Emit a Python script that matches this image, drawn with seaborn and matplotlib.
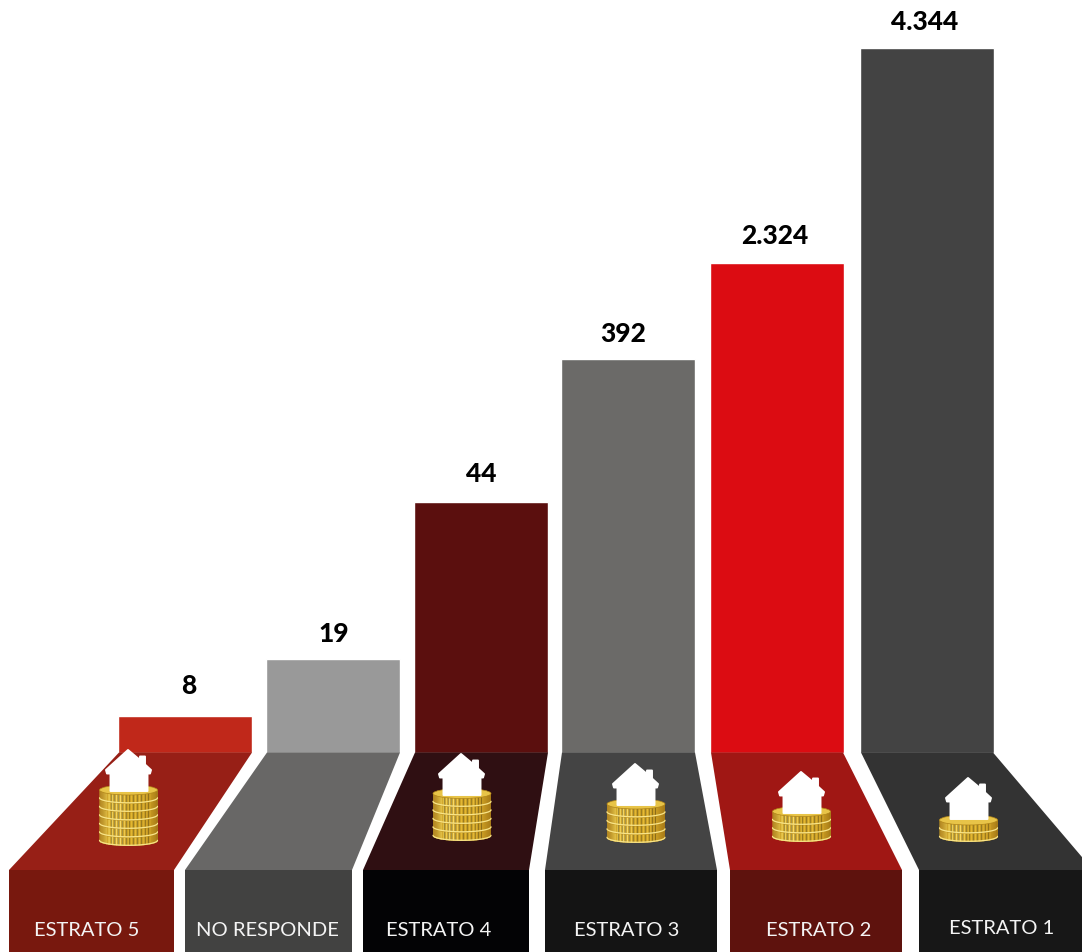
import numpy as np
import pandas as pd
import matplotlib
matplotlib.use("Agg")
import matplotlib.pyplot as plt
from matplotlib.collections import LineCollection
from matplotlib.colors import LinearSegmentedColormap
from matplotlib.patches import Ellipse, Polygon
import seaborn as sns

# Households per socioeconomic stratum
estratos = ["ESTRATO 5", "NO RESPONDE", "ESTRATO 4", "ESTRATO 3", "ESTRATO 2", "ESTRATO 1"]
hogares = [8, 19, 44, 392, 2324, 4344]
etiquetas = ["8", "19", "44", "392", "2.324", "4.344"]

# Colours: column, floor panel, label block
color_barra = ["#C0281A", "#999999", "#5B0F0E", "#6B6A68", "#DC0C12", "#434343"]
color_piso = ["#971F16", "#686766", "#2F0F12", "#444444", "#A01714", "#333333"]
color_base = ["#78180E", "#424241", "#030305", "#141414", "#5E120D", "#171717"]

# The value axis is a broken scale: each stop ties a value to a height in pixels
escala_valor = [0, 8, 19, 44, 392, 2324, 4344, 4700]
escala_alto = [0, 37, 94, 251, 394, 490, 705, 752.5]

# Layout in pixels
W, H = 1082, 952
BASE_Y = 752.5
QUIEBRE_Y = 870
centros = [184.8, 332.8, 480.8, 627.8, 776.5, 926.5]
ANCHO_BARRA = 134
piso_sup = [(119, 252), (267, 400), (415, 548), (562, 695), (711, 843), (861, 993)]
piso_inf = [(9, 174), (185, 352), (363, 529), (545, 717), (730, 902), (919, 1093)]
offset_valor = [(4.2, 29), (0.7, 24), (0.7, 27), (-4.3, 24), (-1.5, 26), (-1.5, 26)]
texto_pos = [(86.5, 931), (267, 931), (438.5, 931), (626.5, 931), (818.5, 931), (1002, 928)]

# Coin stacks: centre x, bottom y, number of coins, house apex x, apex y
pilas = [
    (128.5, 846, 6, 128, 750),
    (462, 841, 5, 461, 754),
    (636, 843, 4, 635, 764),
    (801.5, 842, 3, 801, 772),
    (968.5, 842, 2, 968, 778),
]
casa = [(0, 0), (12, 10), (12, 6.5), (17, 6.5), (17, 14.5), (23, 20), (22, 23.5),
        (19.5, 23.5), (19.5, 41), (-17.5, 41), (-17.5, 23.5), (-21, 23.5), (-22, 20)]

oro = LinearSegmentedColormap.from_list(
    "oro", ["#B08420", "#E8C64A", "#F5DC6E", "#E0B42C", "#E6BE38", "#CC9E24", "#A87C18"])

sns.set_theme(style="white")
plt.rcParams["font.family"] = ["Lato", "DejaVu Sans"]

fig = plt.figure(figsize=(W / 100, H / 100), dpi=100, facecolor="white")

# Columns, drawn on the broken value scale and resting on the floor panels
ax = fig.add_axes([0, 1 - BASE_Y / H, 1, BASE_Y / H])
datos = pd.DataFrame({"estrato": estratos, "centro": centros, "hogares": hogares})
sns.barplot(data=datos, x="centro", y="hogares", hue="estrato", hue_order=estratos,
            palette=color_barra, native_scale=True, dodge=False, saturation=1,
            width=ANCHO_BARRA / np.diff(centros).min(), legend=False, ax=ax)
ax.set_yscale("function", functions=(
    lambda v: np.interp(v, escala_valor, escala_alto),
    lambda a: np.interp(a, escala_alto, escala_valor)))
ax.set_xlim(0, W)
ax.set_ylim(0, escala_valor[-1])
ax.axis("off")

for xc, v, txt, (dx, dy) in zip(centros, hogares, etiquetas, offset_valor):
    ax.annotate(txt, (xc, v), xytext=(dx * 0.72, dy * 0.72), textcoords="offset points",
                ha="center", va="center", fontsize=19, fontweight=900, color="black")

# Overlay in pixel units for the floor, label blocks and icons
ov = fig.add_axes([0, 0, 1, 1], facecolor="none")

for sup, inf, c_p, c_b in zip(piso_sup, piso_inf, color_piso, color_base):
    ov.add_patch(Polygon([(sup[0], BASE_Y), (sup[1], BASE_Y), (inf[1], QUIEBRE_Y), (inf[0], QUIEBRE_Y)],
                         closed=True, fc=c_p, ec="none"))
    ov.add_patch(Polygon([(inf[0], QUIEBRE_Y), (inf[1], QUIEBRE_Y), (inf[1], H), (inf[0], H)],
                         closed=True, fc=c_b, ec="none"))

for (x, y), nombre in zip(texto_pos, estratos):
    ov.text(x, y, nombre, ha="center", va="center", fontsize=14.5, color="#F4F4F4")


def moneda(cx, y_sup, z, rx=29, ry=5, grosor=8.5):
    """One coin: reeded side band with a lit rim on top."""
    t = np.linspace(0, np.pi, 40)
    lado = Polygon(np.vstack([[cx + rx, y_sup], [cx - rx, y_sup],
                              np.column_stack([cx - rx * np.cos(t), y_sup + grosor + ry * np.sin(t)])]),
                   closed=True, fc="#D0A226", ec="none", zorder=z)
    ov.add_patch(lado)
    ang = np.linspace(0.02, np.pi - 0.02, 46)
    xs = cx - rx * np.cos(ang)
    segs = [[(x, y_sup), (x, y_sup + grosor + ry - 1.5)] for x in xs]
    cols = []
    for i, x in enumerate(xs):
        u = (x - cx) / rx
        r, g, b, _ = oro((u + 1) / 2)
        # Reeding reads strongest across the middle of the coin
        k = 0.68 if (i % 2 and abs(u) < 0.7) else 1.0
        cols.append((r * k, g * k, b * k, 1))
    lc = LineCollection(segs, colors=cols, linewidths=0.9, zorder=z + 0.1)
    ov.add_collection(lc)
    lc.set_clip_path(lado)
    # Bright lip along the lower edge and the flat face on top
    ov.plot(cx - rx * np.cos(t), y_sup + grosor + ry * np.sin(t) - 0.7, color="#F8E488",
            lw=0.9, zorder=z + 0.2)
    ov.add_patch(Ellipse((cx, y_sup), 2 * rx, 2 * ry, fc="#E8C448", ec="#B08418", lw=0.5, zorder=z + 0.3))


for cx, y_inf, n, ap_x, ap_y in pilas:
    for k in range(n):
        moneda(cx, y_inf - 5 - 8.5 * (k + 1), 5 + k)
    ov.add_patch(Polygon([(ap_x + dx, ap_y + dy) for dx, dy in casa], closed=True,
                         fc="white", ec="white", lw=1.4, joinstyle="round", zorder=20))

ov.set_xlim(0, W)
ov.set_ylim(H, 0)
ov.axis("off")

fig.savefig("out.png", dpi=100, facecolor="white")
